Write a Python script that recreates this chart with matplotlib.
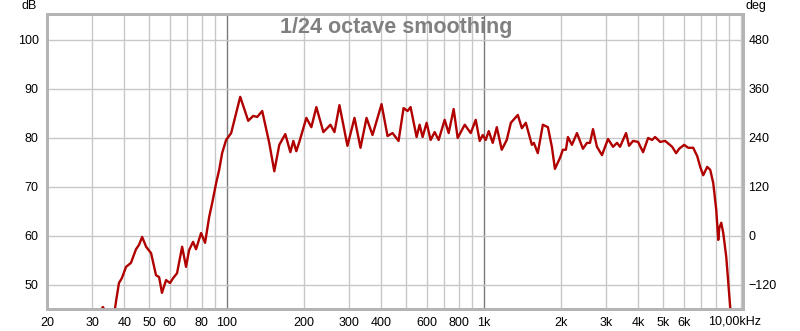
import numpy as np
import matplotlib
matplotlib.use("Agg")
import matplotlib.pyplot as plt
from matplotlib.ticker import FixedLocator, NullFormatter, NullLocator

# frequency response (Hz, dB)
freq_hz = [
    31, 33, 35, 36.5, 37.2, 38.1, 39.1, 40.6, 42.4, 44.4, 45.6, 46.9, 48.6,
    50.8, 53.1, 54.6, 56.0, 58.1, 60.2, 61.9, 64.1, 67.1, 69.5, 71.4, 74.0,
    76.0, 79.5, 82.4, 85.5, 87.8, 91.0, 93.5, 96.0, 99.5, 104.1, 112.9,
    121.3, 126.8, 131.5, 137.5, 146.4, 153.2, 160.2, 169.1, 176.9, 181.7,
    186.6, 191.7, 204.2, 213.5, 223.3, 237.8, 253.3, 262.6, 274.6, 295.0,
    314.2, 331.6, 350.0, 369.3, 400.4, 422.4, 441.8, 466.3, 487.7, 505.5,
    519.3, 548.1, 563.0, 578.4, 599.5, 621.4, 644.2, 667.7, 704.7, 730.4,
    763.8, 791.8, 843.4, 889.9, 930.7, 964.7, 991.1, 1018, 1046, 1084,
    1124, 1175, 1229, 1275, 1357, 1407, 1458, 1539, 1567, 1623, 1698, 1777,
    1841, 1892, 1979, 2032, 2088, 2126, 2203, 2305, 2432, 2521, 2590, 2661,
    2757, 2884, 3044, 3184, 3300, 3390, 3578, 3675, 3810, 3985, 4168, 4360,
    4519, 4642, 4856, 5079, 5408, 5604, 5758, 6022, 6242, 6529, 6768, 6953,
    7143, 7403, 7605, 7813, 8027, 8172, 8246, 8395, 8547, 8780, 8939, 9101,
    9250,
]
spl_db = [
    43.0, 45.5, 43.0, 44.0, 47.0, 50.4, 51.4, 53.7, 54.5, 57.3, 58.2, 59.8,
    57.8, 56.5, 52.0, 51.6, 48.4, 51.0, 50.4, 51.4, 52.4, 57.8, 53.7, 57.1,
    58.8, 57.3, 60.6, 58.6, 63.9, 66.7, 70.8, 73.5, 76.9, 79.6, 81.0, 88.4,
    83.5, 84.5, 84.3, 85.5, 79.0, 73.2, 78.6, 80.8, 77.1, 79.4, 77.3, 79.2,
    84.1, 82.2, 86.3, 81.2, 82.7, 81.2, 86.7, 78.4, 84.1, 78.0, 84.1, 80.6,
    86.9, 80.4, 81.0, 79.4, 86.1, 85.5, 86.3, 80.2, 82.7, 80.2, 83.1, 79.6,
    81.2, 79.6, 83.7, 81.0, 85.9, 80.0, 82.7, 81.0, 83.7, 79.4, 80.6, 79.6,
    81.4, 79.0, 82.2, 77.6, 79.6, 83.1, 84.7, 82.0, 83.1, 78.6, 79.0, 76.9,
    82.7, 82.2, 78.2, 73.7, 75.9, 77.6, 77.6, 80.2, 78.6, 81.0, 77.8, 79.0,
    79.0, 81.8, 78.2, 76.5, 79.8, 78.2, 79.0, 78.2, 81.0, 78.4, 79.4, 79.2,
    77.1, 80.0, 79.6, 80.2, 79.2, 79.4, 78.2, 76.9, 77.8, 78.6, 78.0, 78.0,
    76.3, 74.1, 72.4, 74.1, 73.5, 70.8, 65.3, 59.2, 61.6, 62.7, 60.6, 55.7,
    50.4, 45.3, 41.0,
]

x_ticks = [20, 30, 40, 50, 60, 80, 100, 200, 300, 400, 600, 800,
           1000, 2000, 3000, 4000, 5000, 6000]
x_labels = ["20", "30", "40", "50", "60", "80", "100", "200", "300", "400",
            "600", "800", "1k", "2k", "3k", "4k", "5k", "6k"]
db_ticks = [50, 60, 70, 80, 90, 100]
deg_ticks = [-120, 0, 120, 240, 360, 480]

grid_freqs = ([30, 40, 50, 60, 70, 80, 90] +
              [200, 300, 400, 500, 600, 700, 800, 900] +
              [2000, 3000, 4000, 5000, 6000, 7000, 8000, 9000, 10000])

plt.rcParams["font.family"] = ["Liberation Sans", "DejaVu Sans"]

fig = plt.figure(figsize=(8.0, 3.31), dpi=100)
ax = fig.add_axes([47 / 800, 22 / 331, 696 / 800, 295 / 331])

ax.set_xscale("log")
ax.set_xlim(20, 10200)
ax.set_ylim(45.1, 105.3)

for f in grid_freqs:
    ax.axvline(f, color="#c8c8c8", lw=1.0, zorder=1)
for f in (100, 1000):
    ax.axvline(f, color="#7a7a7a", lw=1.0, zorder=1)
for d in db_ticks:
    ax.axhline(d, color="#c8c8c8", lw=1.0, zorder=1)

ax.plot(freq_hz, spl_db, color="#b00000", lw=1.7, zorder=3,
        solid_joinstyle="round")

ax.xaxis.set_major_locator(FixedLocator(x_ticks))
ax.set_xticklabels(x_labels)
ax.xaxis.set_minor_locator(NullLocator())
ax.xaxis.set_minor_formatter(NullFormatter())
ax.set_yticks(db_ticks)
ax.tick_params(length=0, labelsize=9, colors="#000000")
ax.tick_params(axis="x", pad=6)
ax.tick_params(axis="y", pad=6)

# phase axis on the right, fixed relation to the dB scale
ax2 = ax.twinx()
ax2.set_ylim((45.1 - 60) * 12, (105.3 - 60) * 12)
ax2.set_yticks(deg_ticks)
ax2.tick_params(length=0, labelsize=9, pad=4)

for a in (ax, ax2):
    for s in a.spines.values():
        s.set_color("#b4b4b4")
        s.set_linewidth(2.0)

fig.text(735 / 800, 1 - 321 / 331, "10,00kHz", fontsize=9,
         ha="center", va="center")
fig.text(37 / 800, 1 - 6 / 331, "dB", fontsize=9, ha="right", va="center")
fig.text(745 / 800, 1 - 6 / 331, "deg", fontsize=9, ha="left", va="center")
ax.text(0.502, 0.955, "1/24 octave smoothing", transform=ax.transAxes,
        fontsize=15.5, fontweight="bold", color="#808080",
        ha="center", va="center", zorder=5)

fig.savefig("out.png", dpi=100)
